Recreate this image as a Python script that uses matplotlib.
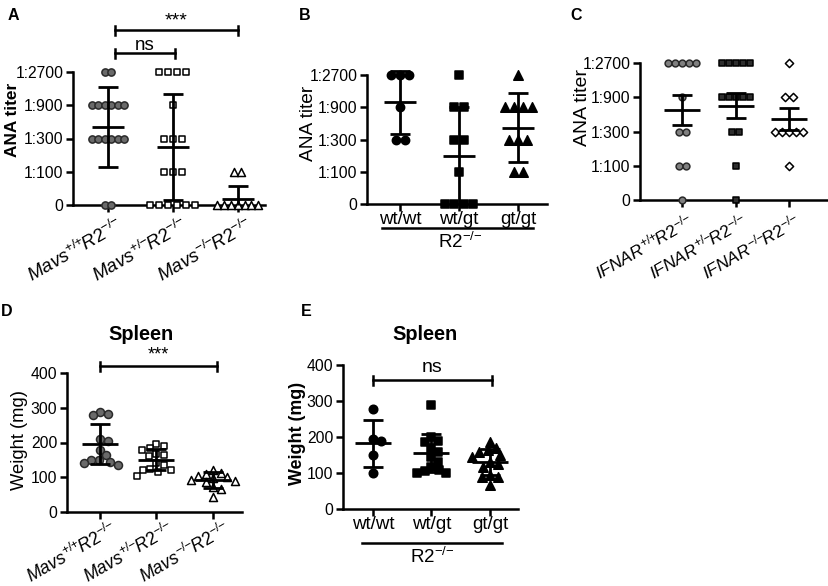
import numpy as np
import matplotlib
matplotlib.use("Agg")
import matplotlib.pyplot as plt
from matplotlib.transforms import Affine2D, blended_transform_factory, ScaledTranslation

plt.rcParams['font.family'] = ['Liberation Sans', 'DejaVu Sans']
plt.rcParams['mathtext.fontset'] = 'custom'
plt.rcParams['mathtext.rm'] = 'Liberation Sans'
plt.rcParams['mathtext.it'] = 'Liberation Sans:italic'
plt.rcParams['mathtext.bf'] = 'Liberation Sans:bold'

# ---------------- data ----------------
titer_labels = ['0', '1:100', '1:300', '1:900', '1:2700']

# Panel A (titer category index 0..4)
a_labels = [r'$\mathit{Mavs}^{{+}/{+}}\!\mathit{R2}^{{-}/{-}}$',
            r'$\mathit{Mavs}^{{+}/{-}}\!\mathit{R2}^{{-}/{-}}$',
            r'$\mathit{Mavs}^{{-}/{-}}\!\mathit{R2}^{{-}/{-}}$']
a_g1 = [4, 4, 3, 3, 3, 3, 3, 3, 2, 2, 2, 2, 2, 2, 0, 0]
a_g2 = [4, 4, 4, 4, 3, 2, 2, 2, 1, 1, 1, 0, 0, 0, 0, 0, 0]
a_g3 = [1, 1, 0, 0, 0, 0, 0, 0, 0]
a_mean = [2.35, 1.75, 0.17]
a_err = [1.20, 1.60, 0.40]

# Panel B
b_labels = ['wt/wt', 'wt/gt', 'gt/gt']
b_g1 = [4, 4, 4, 3, 2, 2]
b_g2 = [4, 3, 3, 2, 2, 1, 0, 0, 0, 0]
b_g3 = [4, 3, 3, 3, 3, 2, 2, 2, 1, 1]
b_mean = [3.15, 1.50, 2.37]
b_err = [0.98, 1.50, 1.06]

# Panel C
c_labels = [r'$\mathit{IFNAR}^{{+}/{+}}\!\mathit{R2}^{{-}/{-}}$',
            r'$\mathit{IFNAR}^{{+}/{-}}\!\mathit{R2}^{{-}/{-}}$',
            r'$\mathit{IFNAR}^{{-}/{-}}\!\mathit{R2}^{{-}/{-}}$']
c_g1 = [4, 4, 4, 4, 4, 3, 2, 2, 1, 1, 0]
c_g2 = [4, 4, 4, 4, 4, 3, 3, 3, 3, 3, 2, 2, 1, 0]
c_g3 = [4, 3, 3, 2, 2, 2, 2, 2, 1]
c_mean = [2.63, 2.75, 2.36]
c_err = [0.45, 0.37, 0.32]

# Panel D (spleen weight, mg)
d_labels = a_labels
d_g1 = [288, 283, 278, 210, 205, 178, 163, 150, 149, 144, 140, 134]
d_g2 = [197, 190, 183, 178, 168, 163, 160, 140, 134, 125, 120, 120, 115, 105]
d_g3 = [120, 112, 110, 105, 100, 97, 93, 90, 86, 72, 67, 43]
d_mean = [195, 150, 92]
d_err = [57, 30, 22]

# Panel E
e_labels = b_labels
e_g1 = [277, 194, 190, 150, 99]
e_g2 = [289, 201, 190, 187, 170, 159, 145, 131, 117, 108, 105, 99, 99]
e_g3 = [187, 170, 164, 159, 150, 145, 131, 125, 117, 95, 90, 88, 67]
e_mean = [182, 155, 131]
e_err = [65, 52, 37]

# ---------------- figure ----------------
W, H = 829, 586
fig = plt.figure(figsize=(W / 100, H / 100), dpi=100)
pxT = Affine2D().scale(1.0 / W, -1.0 / H).translate(0, 1) + fig.transFigure


def make_ax(x0, x1, ytop, ybot, xlim, ylim):
    ax = fig.add_axes([x0 / W, 1 - ybot / H, (x1 - x0) / W, (ybot - ytop) / H])
    ax.set_xlim(*xlim)
    ax.set_ylim(*ylim)
    for s in ['top', 'right']:
        ax.spines[s].set_visible(False)
    for s in ['left', 'bottom']:
        ax.spines[s].set_linewidth(1.8)
    ax.tick_params(direction='out', length=5, width=1.8, labelsize=11.3, pad=2)
    ax.set_facecolor('none')
    ax._ppx = (x1 - x0) / (xlim[1] - xlim[0])
    ax._ppy = (ybot - ytop) / (ylim[1] - ylim[0])
    return ax


def cat_offsets(vals, spacing_px, ppx):
    vals = np.asarray(vals)
    off = np.zeros(len(vals))
    for v in np.unique(vals):
        idx = np.where(vals == v)[0]
        n = len(idx)
        off[idx] = (np.arange(n) - (n - 1) / 2) * spacing_px / ppx
    return off


def swarm_offsets(vals, diam, ppx, ppy):
    ys = np.asarray(vals, float) * ppy
    xs = np.zeros(len(ys))
    placed = []
    for i in np.argsort(-ys):
        y = ys[i]
        cands = [0.0]
        for (qx, qy) in placed:
            dy = abs(y - qy)
            if dy < diam:
                dx = np.sqrt(diam ** 2 - dy ** 2)
                cands += [qx + dx, qx - dx]
        cands.sort(key=abs)
        for c in cands:
            if all((c - qx) ** 2 + (y - qy) ** 2 >= diam ** 2 - 1e-6 for qx, qy in placed):
                xs[i] = c
                break
        placed.append((xs[i], y))
    return xs / ppx


def draw_errors(ax, means, errs, mean_half_px=16, cap_half_px=10, lw=2.0):
    for i, (m, e) in enumerate(zip(means, errs)):
        mh = mean_half_px / ax._ppx
        ch = cap_half_px / ax._ppx
        lo = max(m - e, ax.get_ylim()[0])
        hi = m + e
        kw = dict(color='black', lw=lw, zorder=5, clip_on=False, solid_capstyle='butt')
        ax.plot([i - mh, i + mh], [m, m], **kw)
        ax.plot([i, i], [lo, hi], **kw)
        ax.plot([i - ch, i + ch], [hi, hi], **kw)
        if m - e > ax.get_ylim()[0]:
            ax.plot([i - ch, i + ch], [lo, lo], **kw)


def draw_points(ax, i, vals, offs, marker, face, edge, diam_px, ew=1.1):
    s = (diam_px / 1.389) ** 2
    ax.scatter(i + offs, vals, marker=marker, s=s, facecolor=face, edgecolor=edge,
               linewidths=ew, zorder=3, clip_on=False)


def sig_bar(ax, x0, x1, ypx, text, text_ypx, fs=13):
    tr = blended_transform_factory(ax.transData, pxT)
    ax.plot([x0, x1], [ypx, ypx], color='black', lw=1.8, transform=tr, clip_on=False)
    for x in (x0, x1):
        ax.plot([x, x], [ypx - 4.5, ypx + 4.5], color='black', lw=1.8, transform=tr,
                clip_on=False)
    ax.text((x0 + x1) / 2, text_ypx, text, transform=tr, ha='center', va='center',
            fontsize=fs)


def ftext(x, y, s, **kw):
    fig.text(x / W, 1 - y / H, s, **kw)


def rot_labels(ax, labels, rot, fs, dx=0, dy=0):
    ax.set_xticks(range(len(labels)))
    ax.set_xticklabels(labels, rotation=rot, ha='right', va='top', rotation_mode='anchor',
                       fontsize=fs)
    off = ScaledTranslation(dx / 100, -dy / 100, fig.dpi_scale_trans)
    for t in ax.get_xticklabels():
        t.set_transform(t.get_transform() + off)


# ---------- Panel A ----------
axA = make_ax(73, 265, 72, 205, (-0.54, 2.42), (0, 4))
axA.set_yticks(range(5))
axA.set_yticklabels(titer_labels)
draw_points(axA, 0, a_g1, cat_offsets(a_g1, 6.5, axA._ppx), 'o', '#6a6a6a', '#2a2a2a', 7.2)
draw_points(axA, 1, a_g2, cat_offsets(a_g2, 9.0, axA._ppx), 's', 'white', 'black', 7.0)
draw_points(axA, 2, a_g3, cat_offsets(a_g3, 6.8, axA._ppx), '^', 'white', 'black', 8.0)
draw_errors(axA, a_mean, a_err, 16, 10)
rot_labels(axA, a_labels, 30, 13.5, dx=9, dy=0)
sig_bar(axA, 0.1, 2.0, 30, '***', 21, fs=14)
sig_bar(axA, 0.1, 1.03, 53, 'ns', 45, fs=13.5)
ftext(13, 120, 'ANA titer', rotation=90, ha='center', va='center', fontsize=12.4,
      fontweight='bold')
ftext(13, 15, 'A', ha='center', va='center', fontsize=11.5, fontweight='bold')

# ---------- Panel B ----------
axB = make_ax(367, 547, 75, 204, (-0.56, 2.49), (0, 4))
axB.set_yticks(range(5))
axB.set_yticklabels(titer_labels)
draw_points(axB, 0, b_g1, cat_offsets(b_g1, 9.0, axB._ppx), 'o', 'black', 'black', 8.3)
draw_points(axB, 1, b_g2, cat_offsets(b_g2, 9.5, axB._ppx), 's', 'black', 'black', 7.5)
draw_points(axB, 2, b_g3, cat_offsets(b_g3, 9.0, axB._ppx), '^', 'black', 'black', 9.5)
draw_errors(axB, b_mean, b_err, 16, 10)
axB.set_xticks(range(3))
axB.set_xticklabels(b_labels, fontsize=13.5)
axB.tick_params(axis='x', pad=0)
ftext(309, 123, 'ANA titer', rotation=90, ha='center', va='center', fontsize=13.8)
fig.add_artist(plt.Line2D([382 / W, 533 / W], [1 - 228 / H, 1 - 228 / H], color='black',
                          lw=1.8))
ftext(460, 242, r'R2$^{{-}/{-}}$', ha='center', va='center', fontsize=13.5)
ftext(305, 15, 'B', ha='center', va='center', fontsize=11.5, fontweight='bold')

# ---------- Panel C ----------
axC = make_ax(640, 829, 63, 200, (-0.79, 2.75), (0, 4))
axC.set_yticks(range(5))
axC.set_yticklabels(titer_labels)
draw_points(axC, 0, c_g1, cat_offsets(c_g1, 7.0, axC._ppx), 'o', '#808080', '#2a2a2a', 6.8)
draw_points(axC, 1, c_g2, cat_offsets(c_g2, 7.0, axC._ppx), 's', '#2e2e2e', 'black', 6.5)
draw_points(axC, 2, c_g3, cat_offsets(c_g3, 7.2, axC._ppx), 'D', 'white', 'black', 5.8)
draw_errors(axC, c_mean, c_err, 18, 10)
rot_labels(axC, c_labels, 30, 12.5, dx=5, dy=0)
ftext(583, 108, 'ANA titer', rotation=90, ha='center', va='center', fontsize=14)
ftext(576, 15, 'C', ha='center', va='center', fontsize=11.5, fontweight='bold')

# ---------- Panel D ----------
axD = make_ax(67, 242, 373, 512, (-0.58, 2.51), (0, 400))
axD.set_yticks([0, 100, 200, 300, 400])
draw_points(axD, 0, d_g1, swarm_offsets(d_g1, 8.0, axD._ppx, axD._ppy), 'o', '#6a6a6a',
            '#2a2a2a', 8.0)
draw_points(axD, 1, d_g2, swarm_offsets(d_g2, 8.0, axD._ppx, axD._ppy), 's', 'white',
            'black', 7.0)
draw_points(axD, 2, d_g3, swarm_offsets(d_g3, 8.0, axD._ppx, axD._ppy), '^', 'white',
            'black', 8.0)
draw_errors(axD, d_mean, d_err, 18, 10)
rot_labels(axD, d_labels, 30, 12.8, dx=11, dy=-3)
sig_bar(axD, 0.0, 2.07, 366, '***', 355, fs=13)
ftext(20, 440, 'Weight (mg)', rotation=90, ha='center', va='center', fontsize=13.2)
ftext(7, 312, 'D', ha='center', va='center', fontsize=11.5, fontweight='bold')
ftext(141, 335, 'Spleen', ha='center', va='center', fontsize=14.3, fontweight='bold')

# ---------- Panel E ----------
axE = make_ax(343, 518, 365, 509, (-0.51, 2.48), (0, 400))
axE.set_yticks([0, 100, 200, 300, 400])
draw_points(axE, 0, e_g1, swarm_offsets(e_g1, 8.0, axE._ppx, axE._ppy), 'o', 'black',
            'black', 8.5)
draw_points(axE, 1, e_g2, swarm_offsets(e_g2, 8.0, axE._ppx, axE._ppy), 's', 'black',
            'black', 7.5)
draw_points(axE, 2, e_g3, swarm_offsets(e_g3, 8.5, axE._ppx, axE._ppy), '^', 'black',
            'black', 9.5)
draw_errors(axE, e_mean, e_err, 18, 10)
axE.set_xticks(range(3))
axE.set_xticklabels(e_labels, fontsize=13.5)
axE.tick_params(axis='x', pad=0)
sig_bar(axE, 0.0, 2.03, 380, 'ns', 367, fs=14)
ftext(298, 433, 'Weight (mg)', rotation=90, ha='center', va='center', fontsize=12.9,
      fontweight='bold')
fig.add_artist(plt.Line2D([362 / W, 502 / W], [1 - 543 / H, 1 - 543 / H], color='black',
                          lw=1.8))
ftext(432, 557, r'R2$^{{-}/{-}}$', ha='center', va='center', fontsize=13.5)
ftext(306, 312, 'E', ha='center', va='center', fontsize=11.5, fontweight='bold')
ftext(425, 335, 'Spleen', ha='center', va='center', fontsize=14.3, fontweight='bold')

fig.savefig('out.png', dpi=100)
